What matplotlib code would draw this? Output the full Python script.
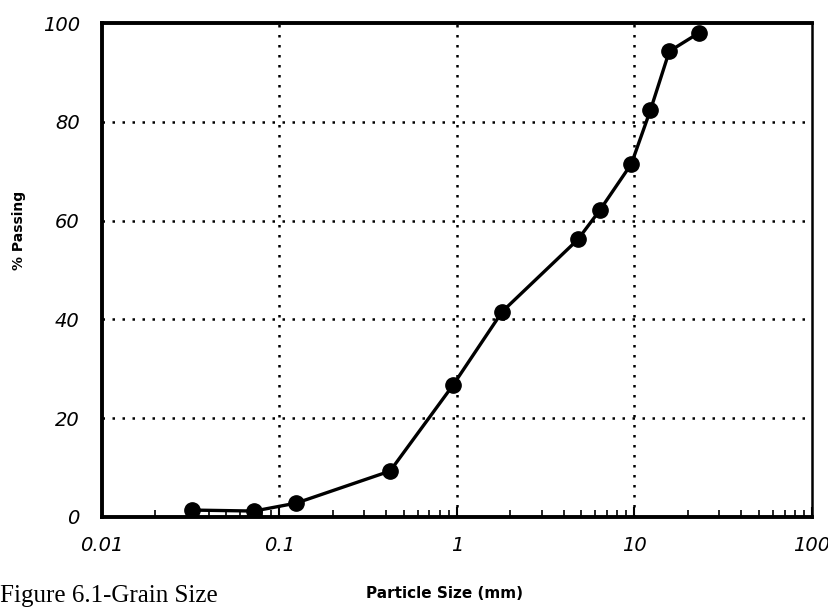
import numpy as np
import matplotlib.pyplot as plt

# Grain size distribution
particle_size = [0.032, 0.072, 0.124, 0.42, 0.95, 1.8, 4.8, 6.4, 9.6, 12.3, 15.7, 23.0]
percent_passing = [1.4, 1.2, 2.8, 9.3, 26.7, 41.6, 56.2, 62.2, 71.5, 82.4, 94.3, 98.0]

x_ticks = [0.01, 0.1, 1, 10, 100]
x_tick_labels = ['0.01', '0.1', '1', '10', '100']
y_ticks = [0, 20, 40, 60, 80, 100]

fig = plt.figure(figsize=(8.29, 6.10), dpi=100)
ax = fig.add_axes([0.123, 0.1525, 0.8565, 0.8095])

ax.plot(particle_size, percent_passing, color='black', linewidth=2.4,
        marker='o', markersize=11, markerfacecolor='black', zorder=3)

ax.set_xscale('log')
ax.set_xlim(0.01, 100)
ax.set_ylim(0, 100)

# dotted grid only at interior lines
for xv in [0.1, 1, 10]:
    ax.axvline(xv, color='black', linestyle=(0, (1, 3)), linewidth=1.8, zorder=1)
for yv in [20, 40, 60, 80]:
    ax.axhline(yv, color='black', linestyle=(0, (1, 3)), linewidth=1.8, zorder=1)

ax.set_xticks(x_ticks)
ax.set_xticklabels(x_tick_labels, fontsize=14, fontstyle='italic')
ax.set_yticks(y_ticks)
ax.set_yticklabels([str(v) for v in y_ticks], fontsize=14, fontstyle='italic')
ax.tick_params(axis='x', which='major', direction='in', length=7, width=1.5, pad=14)
ax.tick_params(axis='x', which='minor', direction='in', length=5, width=1.2)
ax.tick_params(axis='y', length=0, pad=16)

for side in ['left', 'bottom', 'top']:
    ax.spines[side].set_linewidth(2.8)
ax.spines['right'].set_linewidth(1.8)

ax.set_xlabel('Particle Size (mm)', fontsize=11, fontweight='bold')
ax.xaxis.set_label_coords(0.482, -0.14)
ax.set_ylabel('% Passing', fontsize=10, fontweight='bold')
ax.yaxis.set_label_coords(-0.107, 0.58)

fig.text(0.0, 0.005, 'Figure 6.1-Grain Size', fontsize=18, family='Liberation Serif',
         ha='left', va='bottom')

fig.savefig('out.png', dpi=100)
